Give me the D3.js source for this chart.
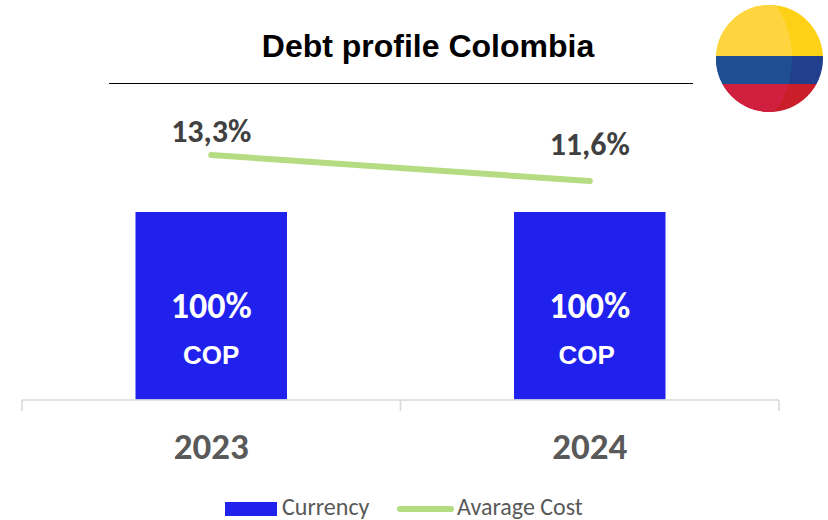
<!DOCTYPE html>
<html>
<head>
<meta charset="utf-8">
<script src="https://cdn.jsdelivr.net/npm/d3@7"></script>
<style>
  html, body { margin: 0; padding: 0; background: #fff; }
  svg { display: block; }
</style>
</head>
<body>
<svg id="chart" width="828" height="520"></svg>
<script>
const years = ["2023", "2024"];
const currencyShare = [100, 100];
const currencyLabels = ["COP", "COP"];
const averageCost = [13.3, 11.6];
const costLabels = ["13,3%", "11,6%"];
const chartTitle = "Debt profile Colombia";
const legendNames = ["Currency", "Avarage Cost"];

const calibriLike = "Carlito, Calibri, Lato, sans-serif";
const arialLike = "'Liberation Sans', Arial, sans-serif";
const barBlue = "#2121ee";
const lineGreen = "#b5dc82";

const svg = d3.select("#chart");

const x = d3.scaleBand().domain(years).range([22, 779]).paddingInner(0).paddingOuter(0);
const yBar = d3.scaleLinear().domain([0, 100]).range([399.5, 212]);
const yCost = d3.scaleLinear().domain([10, 14]).range([205.5, 144.3]);
const barWidth = 151.5;
const cx = d => x(d) + x.bandwidth() / 2;

// Title and rule beneath it
svg.append("text").attr("x", 428).attr("y", 57)
  .attr("text-anchor", "middle")
  .style("font", `bold 32px ${arialLike}`).style("fill", "#000")
  .text(chartTitle);
svg.append("line").attr("x1", 109).attr("x2", 693).attr("y1", 83.5).attr("y2", 83.5)
  .attr("stroke", "#000").attr("stroke-width", 1);

// Colombian flag badge
const flag = svg.append("g");
const defs = svg.append("defs");
defs.append("clipPath").attr("id", "flagClip")
  .append("circle").attr("cx", 769.5).attr("cy", 58.5).attr("r", 53.5);
flag.attr("clip-path", "url(#flagClip)");
const bands = [
  { y: 0, h: 56, base: "#fed116", light: "#fed53e" },
  { y: 56, h: 28, base: "#213f8d", light: "#1d4f92" },
  { y: 84, h: 30, base: "#ca1f2b", light: "#d1203f" }
];
defs.append("clipPath").attr("id", "flagLight")
  .append("path").attr("d", "M700,0 L772,0 C785,16 793,38 792,62 C791,82 785,100 772,114 L700,114 Z");
bands.forEach(b => {
  flag.append("rect").attr("x", 710).attr("y", b.y).attr("width", 118).attr("height", b.h).attr("fill", b.base);
  flag.append("rect").attr("x", 710).attr("y", b.y).attr("width", 118).attr("height", b.h).attr("fill", b.light)
    .attr("clip-path", "url(#flagLight)");
});

// Bars with their share and currency labels
svg.selectAll(".bar").data(years).join("rect").attr("class", "bar")
  .attr("x", d => cx(d) - barWidth / 2)
  .attr("width", barWidth)
  .attr("y", (d, i) => yBar(currencyShare[i]))
  .attr("height", (d, i) => yBar(0) - yBar(currencyShare[i]))
  .attr("fill", barBlue);

svg.selectAll(".share").data(years).join("text").attr("class", "share")
  .attr("x", cx).attr("y", 318).attr("text-anchor", "middle")
  .style("font", `bold 36px ${calibriLike}`).style("fill", "#fff")
  .text((d, i) => currencyShare[i] + "%");

svg.selectAll(".cur").data(years).join("text").attr("class", "cur")
  .attr("x", (d, i) => cx(d) + (i ? -3 : 0)).attr("y", 364).attr("text-anchor", "middle")
  .style("font", `bold 26px ${arialLike}`).style("fill", "#fff")
  .text((d, i) => currencyLabels[i]);

// Category axis
const axis = d3.axisBottom(x).tickValues([]).tickSize(0);
const axisG = svg.append("g").attr("transform", "translate(0,400)").call(axis);
axisG.select(".domain").remove();
const tickColor = "#d9d9d9";
axisG.append("line").attr("x1", 22).attr("x2", 779).attr("stroke", tickColor).attr("stroke-width", 1.6);
[x.range()[0], x(years[1]), x.range()[1]].forEach(t => {
  axisG.append("line").attr("x1", t).attr("x2", t).attr("y1", 0).attr("y2", 11)
    .attr("stroke", tickColor).attr("stroke-width", 1.6);
});
svg.selectAll(".year").data(years).join("text").attr("class", "year")
  .attr("x", cx).attr("y", 459).attr("text-anchor", "middle")
  .style("font", `bold 37px ${calibriLike}`).style("fill", "#595959")
  .text(d => d);

// Average cost line and labels
const costLine = d3.line().x((d, i) => cx(years[i])).y(d => yCost(d));
svg.append("path").datum(averageCost)
  .attr("d", costLine).attr("fill", "none")
  .attr("stroke", lineGreen).attr("stroke-width", 6).attr("stroke-linecap", "round");

svg.selectAll(".cost").data(years).join("text").attr("class", "cost")
  .attr("x", cx).attr("y", (d, i) => yCost(averageCost[i]) - (i ? 26 : 13))
  .attr("text-anchor", "middle")
  .style("font", `bold 32px ${calibriLike}`).style("fill", "#404040")
  .text((d, i) => costLabels[i]);

// Legend
const legend = svg.append("g");
legend.append("rect").attr("x", 225).attr("y", 502).attr("width", 52).attr("height", 14).attr("fill", barBlue);
legend.append("text").attr("x", 282).attr("y", 515)
  .style("font", `24px ${calibriLike}`).style("fill", "#595959").text(legendNames[0]);
legend.append("line").attr("x1", 400).attr("x2", 451).attr("y1", 509).attr("y2", 509)
  .attr("stroke", lineGreen).attr("stroke-width", 6).attr("stroke-linecap", "round");
legend.append("text").attr("x", 457).attr("y", 515)
  .style("font", `24px ${calibriLike}`).style("fill", "#595959").text(legendNames[1]);
</script>
</body>
</html>
